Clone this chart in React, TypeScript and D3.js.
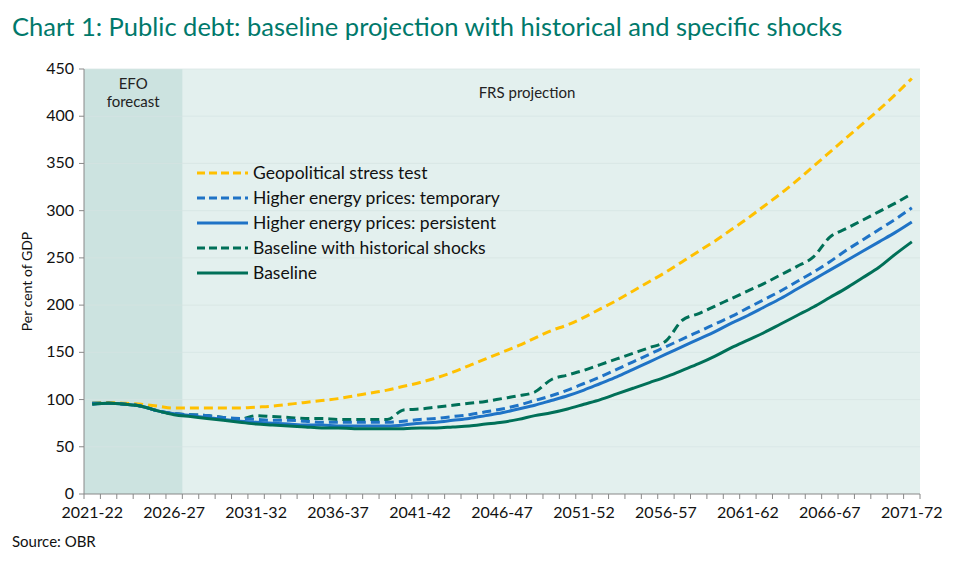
import React from "react";
import * as d3 from "d3";

const years = d3.range(2021, 2072).map((y) => `${y}-${String((y + 1) % 100).padStart(2, "0")}`);
const geopolitical = [96,97,96,95,93,91,91,91,91,91, 92,93,95,97,99,101,104,107,110,114, 118,123,129,136,143,150,157,165,173,179, 187,196,205,215,225,235,246,257,268,280, 292,305,318,332,347,362,377,392,407,423,440];
const tempEnergy = [96,96,95,93,88,85,84,83,81,80, 79,78,78,77,76,76,76,76,76,77, 79,80,82,84,87,90,94,99,104,110, 117,124,132,140,148,156,164,172,180,188, 197,206,215,225,235,246,258,269,280,291,303];
const persistEnergy = [95,96,95,93,88,85,83,81,79,77, 76,75,74,73,73,72,72,72,72,73, 75,76,78,80,83,86,90,94,99,104, 110,117,124,132,140,148,156,164,172,181, 189,198,207,217,227,237,247,257,267,277,288];
const historical = [96,96,95,93,88,85,84,83,81,79, 83,82,81,80,80,79,79,79,79,89, 90,92,94,96,98,101,104,108,121,126, 131,137,143,149,155,162,184,191,199,207, 215,223,232,241,251,272,281,290,299,308,318];
const baseline = [95,96,95,93,88,84,82,80,78,76, 74,73,72,71,70,70,69,69,69,69, 70,70,71,72,74,76,79,83,86,90, 95,100,106,112,118,124,131,138,146,155, 163,171,180,189,198,208,218,229,240,254,267];
const yTicks = [0,50,100,150,200,250,300,350,400,450];

const series = [
  { name: "Geopolitical stress test", data: geopolitical, color: "#FFC000", dash: "9 5" },
  { name: "Higher energy prices: temporary", data: tempEnergy, color: "#1F73C6", dash: "9 5" },
  { name: "Higher energy prices: persistent", data: persistEnergy, color: "#1F73C6", dash: "" },
  { name: "Baseline with historical shocks", data: historical, color: "#007058", dash: "9 5" },
  { name: "Baseline", data: baseline, color: "#007058", dash: "" },
];

export default function App() {
  const W = 959, H = 564;
  const L = 84, R = 920, T = 69, B = 494;
  const x = d3.scaleBand().domain(years).range([L, R]);
  const y = d3.scaleLinear().domain([0, 450]).range([B, T]);
  const cx = (i: number) => (x(years[i]) as number) + x.bandwidth() / 2;
  const line = d3.line<number>().x((_, i) => cx(i)).y((d) => y(d)).curve(d3.curveMonotoneX);
  const font = "Lato, 'Noto Sans', sans-serif";
  const efoEnd = (x(years[5]) as number) + x.bandwidth();
  const drawOrder = [0, 3, 1, 2, 4];
  return (
    <svg width={W} height={H} style={{ position: "absolute", left: 0, top: 0, fontFamily: font }}>
      <rect width={W} height={H} fill="#fff" />
      <text x={12} y={36} fontSize={25.5} fill="#00796B">Chart 1: Public debt: baseline projection with historical and specific shocks</text>
      <rect x={L} y={T} width={R - L} height={B - T} fill="#E3F0EE" />
      <rect x={L} y={T} width={efoEnd - L} height={B - T} fill="#CCE3E0" />
      {yTicks.slice(1).map((t) => (
        <line key={t} x1={L} x2={R} y1={y(t)} y2={y(t)} stroke="#d6e4e2" strokeWidth={0.7} />
      ))}
      <text x={(L + efoEnd) / 2} y={89} fontSize={15} textAnchor="middle" fill="#222">EFO</text>
      <text x={(L + efoEnd) / 2} y={107} fontSize={15} textAnchor="middle" fill="#222">forecast</text>
      <text x={527} y={98} fontSize={15} textAnchor="middle" fill="#222">FRS projection</text>
      {drawOrder.map((k) => (
        <path key={k} d={line(series[k].data) || ""} fill="none" stroke={series[k].color} strokeWidth={3} strokeDasharray={series[k].dash} />
      ))}
      <line x1={L} x2={L} y1={T} y2={B} stroke="#888" />
      <line x1={L} x2={R} y1={B} y2={B} stroke="#888" />
      {yTicks.map((t) => (
        <g key={t}>
          <line x1={L - 5} x2={L} y1={y(t)} y2={y(t)} stroke="#888" />
          <text x={L - 10} y={y(t) + 5} fontSize={16} textAnchor="end" fill="#111">{t}</text>
        </g>
      ))}
      {years.map((yr) => (
        <line key={yr} x1={x(yr) as number} x2={x(yr) as number} y1={B} y2={B + 5} stroke="#888" />
      ))}
      <line x1={R} x2={R} y1={B} y2={B + 5} stroke="#888" />
      {years.map((yr, i) => (i % 5 === 0 ? (
        <text key={yr} x={cx(i)} y={B + 24} fontSize={16} textAnchor="middle" fill="#111">{yr}</text>
      ) : null))}
      <text transform={`translate(32,${(T + B) / 2}) rotate(-90)`} fontSize={14} textAnchor="middle" fill="#111">Per cent of GDP</text>
      {series.map((s, i) => (
        <g key={s.name}>
          <line x1={197} x2={248} y1={173 + i * 25} y2={173 + i * 25} stroke={s.color} strokeWidth={3} strokeDasharray={s.dash ? "8 4" : ""} />
          <text x={253} y={179 + i * 25} fontSize={17.5} fill="#111">{s.name}</text>
        </g>
      ))}
      <text x={12} y={547} fontSize={15} fill="#111">Source: OBR</text>
    </svg>
  );
}
